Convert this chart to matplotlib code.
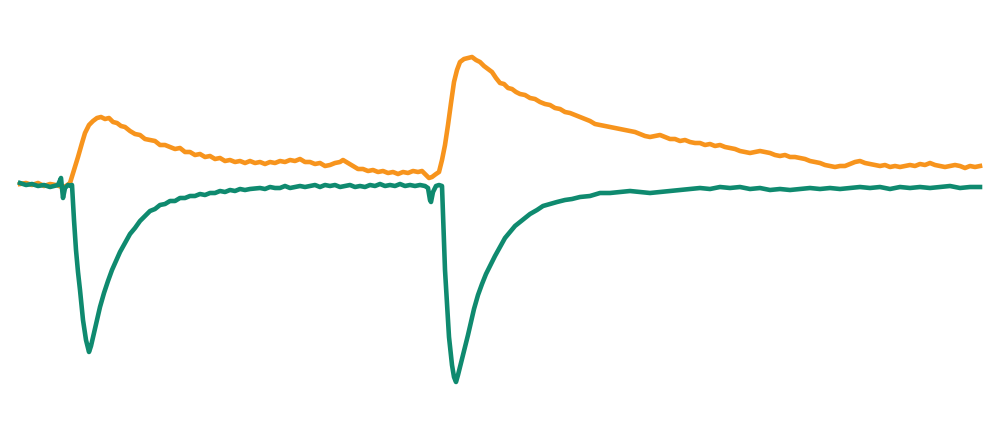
import matplotlib
matplotlib.use("Agg")
import matplotlib.pyplot as plt
import numpy as np

# time (ms) and response
t_orange = [0, 6, 12, 18, 24, 30, 36, 42, 46, 50,
            54, 58, 62, 65, 69, 73, 77, 81, 85, 89,
            93, 97, 101, 105, 110, 115, 120, 125, 130, 135,
            140, 145, 150, 155, 160, 165, 170, 175, 180, 185,
            190, 195, 200, 205, 210, 215, 220, 225, 230, 235,
            240, 245, 250, 255, 260, 265, 270, 275, 280, 285,
            290, 295, 300, 305, 310, 315, 320, 323, 328, 333,
            338, 343, 348, 353, 358, 363, 368, 373, 378, 383,
            388, 393, 398, 402, 406, 409, 412, 416, 419, 422,
            425, 428, 431, 434, 437, 440, 444, 448, 452, 456,
            460, 464, 468, 472, 476, 480, 484, 488, 492, 496,
            500, 505, 510, 515, 520, 525, 530, 535, 540, 545,
            550, 555, 560, 565, 570, 575, 580, 585, 590, 595,
            600, 605, 610, 615, 620, 625, 630, 635, 640, 645,
            650, 655, 660, 665, 670, 675, 680, 685, 690, 695,
            700, 705, 710, 715, 720, 725, 730, 735, 740, 745,
            750, 755, 760, 765, 770, 775, 780, 785, 790, 795,
            800, 805, 810, 815, 820, 825, 830, 835, 840, 845,
            850, 855, 860, 865, 870, 875, 880, 885, 890, 895,
            900, 905, 910, 915, 920, 925, 930, 935, 940, 945,
            950, 955, 960]
orange = [1, 2, 0, 2, -1, 1, 0, -2, -1, 2,
          15, 28, 42, 52, 60, 64, 67, 68, 66, 67,
          63, 62, 59, 58, 54, 51, 50, 46, 45, 44,
          40, 40, 38, 36, 37, 33, 33, 30, 31, 28,
          29, 26, 27, 24, 25, 23, 24, 22, 24, 22,
          23, 21, 23, 22, 24, 23, 25, 24, 26, 23,
          23, 21, 22, 19, 20, 22, 23, 25, 22, 19,
          16, 16, 14, 15, 13, 14, 12, 13, 11, 13,
          12, 14, 13, 14, 10, 7, 8, 11, 13, 25,
          40, 60, 82, 103, 115, 123, 126, 127, 128, 125,
          123, 119, 116, 113, 107, 102, 101, 97, 96, 93,
          91, 90, 87, 86, 83, 81, 80, 77, 76, 73,
          72, 70, 68, 66, 64, 61, 60, 59, 58, 57,
          56, 55, 54, 53, 51, 49, 48, 49, 50, 48,
          46, 46, 44, 45, 43, 42, 42, 40, 41, 39,
          40, 38, 37, 36, 34, 33, 32, 33, 34, 33,
          32, 30, 29, 30, 28, 28, 27, 26, 24, 23,
          22, 20, 19, 18, 19, 19, 21, 23, 24, 22,
          21, 20, 19, 20, 18, 19, 18, 19, 20, 19,
          21, 20, 22, 20, 19, 18, 19, 20, 19, 17,
          19, 18, 19]

t_green = [0, 6, 12, 18, 24, 30, 34, 38, 41, 43,
           45, 48, 51, 52, 54, 56, 58, 60, 63, 66,
           69, 71, 74, 77, 80, 84, 88, 92, 96, 100,
           105, 110, 115, 120, 125, 130, 135, 140, 145, 150,
           155, 160, 165, 170, 175, 180, 185, 190, 195, 200,
           205, 210, 215, 220, 225, 230, 240, 245, 250, 255,
           260, 265, 270, 275, 280, 285, 290, 295, 300, 305,
           310, 315, 320, 325, 330, 335, 340, 345, 350, 355,
           360, 365, 370, 375, 380, 385, 390, 395, 400, 405,
           408, 410, 411, 413, 416, 419, 422, 425, 429, 432,
           434, 436, 438, 441, 445, 448, 451, 454, 458, 462,
           466, 470, 475, 480, 485, 490, 495, 500, 505, 510,
           517, 523, 530, 537, 545, 552, 560, 570, 580, 590,
           600, 610, 620, 630, 640, 650, 660, 670, 680, 690,
           700, 710, 720, 730, 740, 750, 760, 770, 780, 790,
           800, 810, 820, 830, 840, 850, 860, 870, 880, 890,
           900, 910, 920, 930, 940, 950, 960]
green = [2, 0, 1, -1, 0, -2, -1, 0, 7, -13,
         -3, 0, -1, 0, -35, -65, -87, -105, -135, -155,
         -167, -161, -148, -135, -122, -108, -96, -85, -76, -67,
         -58, -49, -43, -36, -31, -26, -24, -20, -19, -16,
         -16, -13, -13, -11, -11, -9, -10, -8, -8, -6,
         -7, -5, -6, -4, -5, -4, -3, -4, -2, -3,
         -3, -1, -3, -2, -1, -2, -1, 0, -2, 0,
         -1, 0, -2, -1, 0, -2, -1, -2, 0, -1,
         1, -1, 0, -1, 1, -1, 0, -1, 0, -1,
         -3, -15, -17, -7, -1, 0, -1, -85, -152, -180,
         -192, -197, -190, -178, -162, -150, -137, -124, -110, -99,
         -89, -81, -71, -62, -53, -47, -41, -37, -33, -29,
         -25, -21, -19, -17, -15, -14, -12, -11, -8, -8,
         -7, -6, -7, -8, -7, -6, -5, -4, -3, -4,
         -2, -3, -2, -4, -3, -5, -4, -5, -4, -3,
         -4, -3, -4, -3, -2, -3, -2, -4, -2, -3,
         -2, -3, -2, -1, -3, -2, -2]

fig = plt.figure(figsize=(10, 4.4), dpi=100)
ax = fig.add_axes([0, 0, 1, 1])
ax.plot(t_orange, orange, color="#F7941D", linewidth=3.3, solid_joinstyle="round")
ax.plot(t_green, green, color="#0F8A6F", linewidth=3.3, solid_joinstyle="round")
ax.set_xlim(-20, 980)
ax.set_ylim(-255, 185)
ax.axis("off")
fig.savefig("out.png", dpi=100)
